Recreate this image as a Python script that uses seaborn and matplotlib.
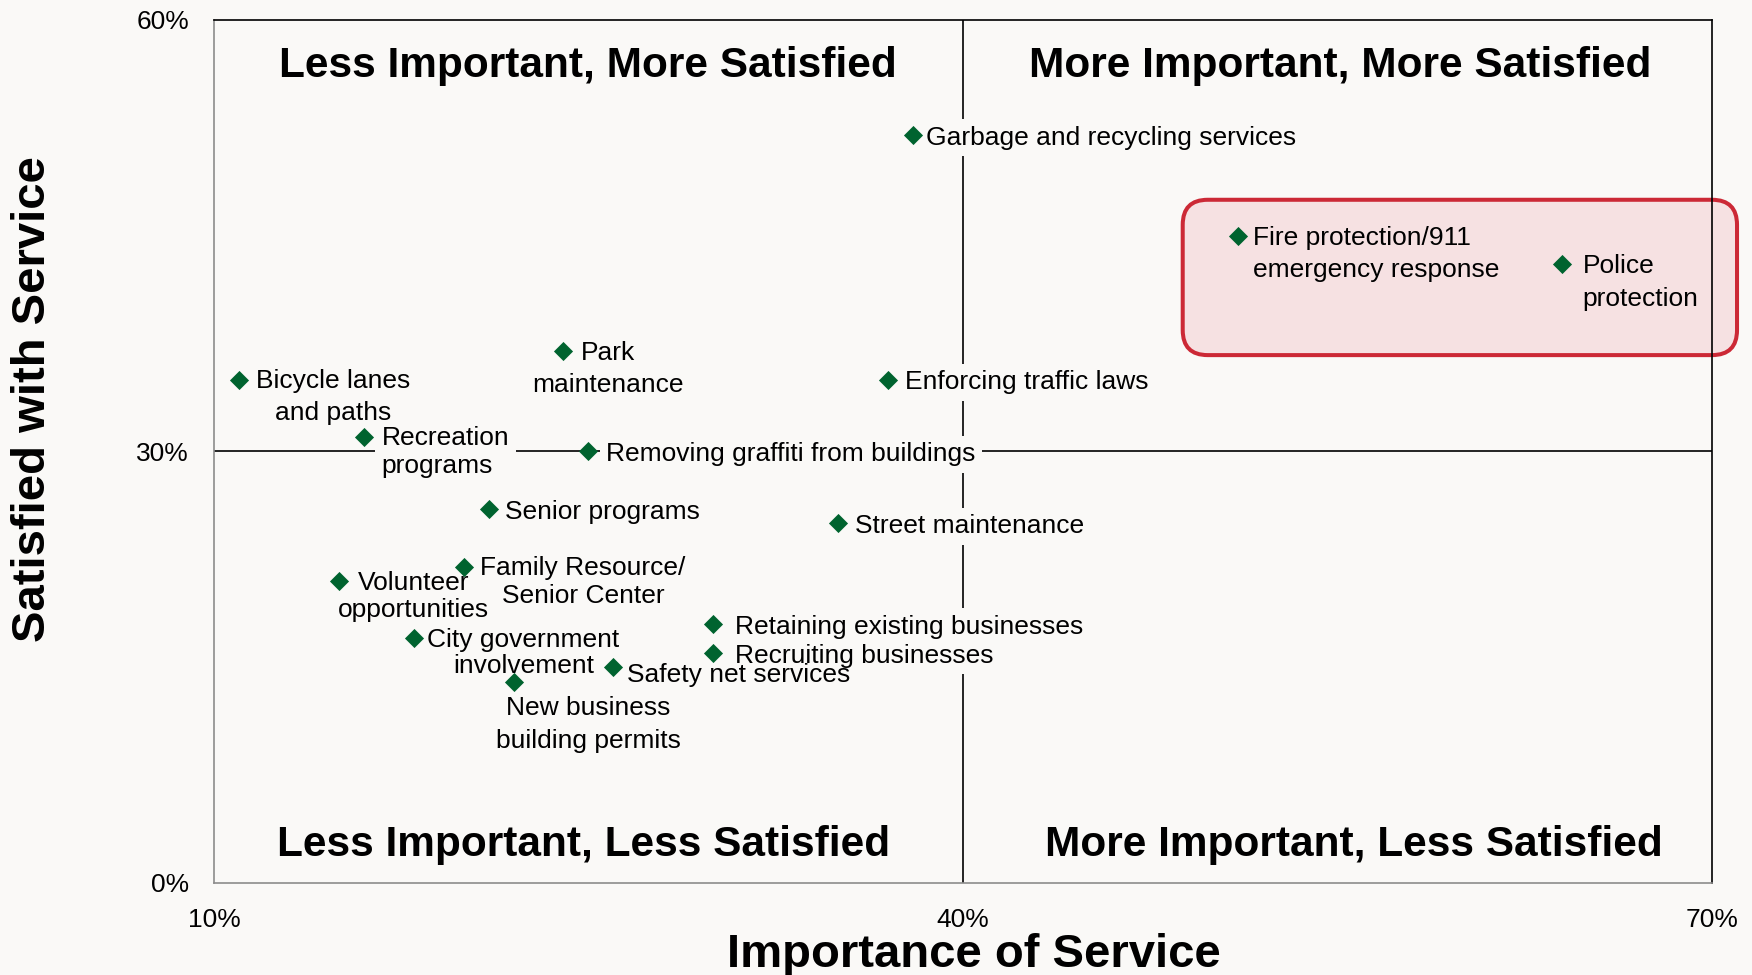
import seaborn as sns
import pandas as pd
import matplotlib.pyplot as plt
from matplotlib.patches import FancyBboxPatch
from matplotlib.ticker import FuncFormatter

services = ['Garbage and recycling services', 'Fire protection/911\nemergency response',
            'Police\nprotection', 'Park\nmaintenance', 'Bicycle lanes\nand paths',
            'Enforcing traffic laws', 'Recreation\nprograms', 'Removing graffiti from buildings',
            'Senior programs', 'Street maintenance', 'Family Resource/\nSenior Center',
            'Volunteer\nopportunities', 'Retaining existing businesses', 'Recruiting businesses',
            'City government\ninvolvement', 'Safety net services', 'New business\nbuilding permits']
importance = [38, 51, 64, 24, 11, 37, 16, 25, 21, 35, 20, 15, 30, 30, 18, 26, 22]
satisfaction = [52, 45, 43, 37, 35, 35, 31, 30, 26, 25, 22, 21, 18, 16, 17, 15, 14]

quadrants = ['Less Important, More Satisfied', 'More Important, More Satisfied',
             'Less Important, Less Satisfied', 'More Important, Less Satisfied']

# label placement (offset in points, alignment, line spacing)
offsets = [(9.6, -2), (11.3, -13), (14.5, -13), (32, -13), (68, -12.5),
           (12, -2), (12.9, -10.5), (12.9, -2), (12, -2), (12, -2), (86, -11),
           (54, -11), (15.3, -2), (15.3, -2), (79, -10.5), (9.6, -5.5), (54, -31)]
aligns = ['left', 'left', 'left', 'center', 'center', 'left', 'left', 'left', 'left',
          'left', 'center', 'center', 'left', 'left', 'center', 'left', 'center']
spacing = [1.2, 1.45, 1.45, 1.45, 1.4, 1.2, 1.2, 1.2, 1.2, 1.2, 1.2, 1.15, 1.2, 1.2, 1.1, 1.2, 1.45]
in_box = [False, True, True] + [False] * 14

df = pd.DataFrame({'service': services, 'importance': importance, 'satisfaction': satisfaction})

bg = '#faf9f7'
green = '#00632f'
sns.set_style('white')
plt.rcParams['font.family'] = ['Liberation Sans', 'DejaVu Sans']
plt.rcParams['text.color'] = 'black'
plt.rcParams['axes.labelcolor'] = 'black'
plt.rcParams['xtick.color'] = 'black'
plt.rcParams['ytick.color'] = 'black'

fig = plt.figure(figsize=(17.52, 9.75), dpi=100, facecolor=bg)
ax = fig.add_axes([0.1221, 0.0944, 0.8551, 0.8851])
ax.set_facecolor(bg)

ax.axvline(40, color='black', lw=1.2, zorder=1)
ax.axhline(30, color='black', lw=1.2, zorder=1)

sns.scatterplot(data=df, x='importance', y='satisfaction', marker='D', s=95,
                color=green, linewidth=0, zorder=5, ax=ax)

# backgrounds first (hide the quadrant lines), then the texts on top
for i, row in df.iterrows():
    kw = dict(xytext=offsets[i], textcoords='offset points', ha=aligns[i], va='center',
              multialignment=aligns[i], linespacing=spacing[i], fontsize=19)
    if not in_box[i]:
        ax.annotate(row['service'], (row['importance'], row['satisfaction']),
                    color=(0, 0, 0, 0), zorder=2,
                    bbox=dict(boxstyle='square,pad=0.25', fc=bg, ec='none'), **kw)
    ax.annotate(row['service'], (row['importance'], row['satisfaction']), zorder=4, **kw)

# highlight box round fire and police
hl = FancyBboxPatch((48.8, 36.7), 22.2, 10.8, boxstyle='round,pad=0,rounding_size=1.0',
                    mutation_aspect=1.74, fc='#f6e1e2', ec='#cc2936', lw=2.9,
                    clip_on=False, zorder=0.5)
ax.add_patch(hl)

qpos = [(0.2497, 0.947), (0.7517, 0.947), (0.247, 0.0435), (0.761, 0.0435)]
for q, (qx, qy) in zip(quadrants, qpos):
    ax.text(qx, qy, q, transform=ax.transAxes, ha='center', va='center',
            fontsize=30.5, fontweight='bold', zorder=3)

ax.set_xlim(10, 70)
ax.set_ylim(0, 60)
ax.set_xticks([10, 40, 70])
ax.set_yticks([0, 30, 60])
pct = FuncFormatter(lambda v, p: f'{v:.0f}%')
ax.xaxis.set_major_formatter(pct)
ax.yaxis.set_major_formatter(pct)
ax.tick_params(axis='both', length=0, labelsize=19)
ax.tick_params(axis='x', pad=18)
ax.tick_params(axis='y', pad=18)

for side in ['left', 'bottom']:
    ax.spines[side].set_color('#8c8c8c')
for side in ['top', 'right']:
    ax.spines[side].set_color('black')
for sp in ax.spines.values():
    sp.set_linewidth(1.2)

ax.set_xlabel('Importance of Service', fontsize=34, fontweight='bold', va='center')
ax.set_ylabel('Satisfied with Service', fontsize=34, fontweight='bold', va='center')
ax.xaxis.set_label_coords(0.507, -0.083)
ax.yaxis.set_label_coords(-0.121, 0.561)

fig.savefig('out.png', dpi=100, facecolor=bg)
